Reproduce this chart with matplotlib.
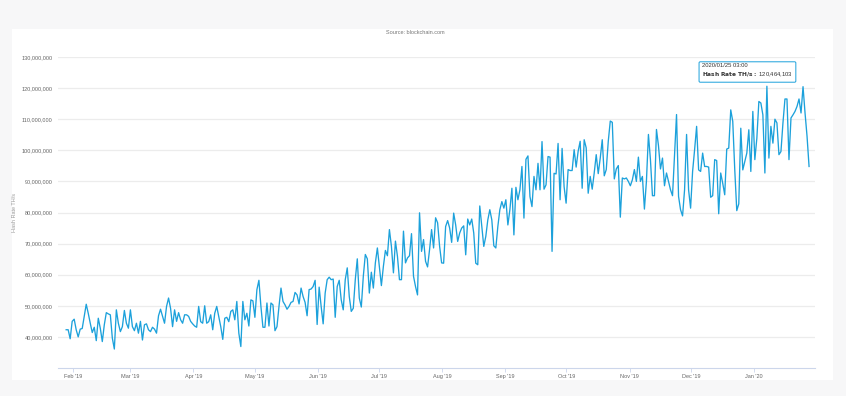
import matplotlib
matplotlib.use("Agg")
import matplotlib.pyplot as plt
import matplotlib.dates as mdates
import matplotlib.ticker as mticker
from matplotlib.patches import Rectangle
import numpy as np
import pandas as pd

### Data (hash rate, millions of TH/s, roughly daily)
hash_rate_m = [
    # Jan 28 - Mar 31 2019
    42.3, 42.3, 39.4, 45, 45.7, 42.3, 40, 42.5, 42.7, 46.6, 50.5, 47.6, 44.4, 41.4, 43.1, 38.8,
    46, 42.8, 38.5, 43.9, 47.8, 47.4, 47.1, 39.6, 36.1, 48.7, 44.4, 41.7, 43.3, 48.5, 44.4, 42.8,
    48.7, 43.3, 42, 44.4, 41.2, 45, 39, 43.9, 44.2, 42.3, 41.7, 43.1, 42.5, 41.2, 46.8, 48.9,
    46.6, 44.4, 49.8, 52.5, 49.2, 43.3, 48.7, 45, 47.8, 45.5, 44.4, 47.1, 47.1, 46.6, 45,
    # Apr - May
    44.2, 43.5, 43.1, 49.8, 44.9, 44.4, 50, 44.4, 44.9, 47.1, 42.3, 47.6, 49.8, 46.6, 43.3, 39.2,
    46, 46.3, 44.9, 48.2, 48.7, 45.5, 51.4, 41.2, 36.9, 51.4, 45.5, 47.6, 43.5, 51.9, 51.6, 46.3,
    55.2, 58.2, 49.8, 43.1, 43.1, 50.9, 43.5, 50.9, 50.3, 42, 43.3, 49.8, 55.7, 51.4, 50.3, 48.9,
    49.8, 51.1, 51.4, 54.3, 53.5, 50.6, 55.7, 53, 51.1, 46.8, 55.2, 55.4, 56.2, 58.2, 44,
    # Jun - Jul
    56.0, 49.8, 44.2, 54.1, 58.4, 59.2, 58.4, 58.6, 46.3, 56.2, 58.2, 51.9, 48.7, 58.4, 62.2, 53,
    48.2, 49.2, 58.4, 65.1, 52.5, 49.6, 59.5, 66.5, 65.1, 54.1, 60.8, 55.7, 63.8, 68.6, 62.7, 56.5,
    62.7, 67.8, 66.1, 74.5, 69.1, 60.6, 70.8, 65.9, 58.4, 58.4, 74, 63.8, 65.4, 66.1, 73.2, 59.5,
    56.2, 53.5, 79.9, 67.5, 71.3, 64.3, 62.5, 68.1, 74.5, 68.6, 78.3, 76.7, 69.1, 63.8,
    # Aug - Sep
    63.7, 75.5, 77.4, 75, 70.4, 79.8, 76, 70.7, 73.4, 75, 75.7, 66.4, 77.9, 76, 77.9, 73.4,
    63.7, 63.2, 82.1, 75.5, 69.1, 72.3, 77.6, 80.9, 77.6, 69.3, 68.6, 75.5, 80.9, 83.5, 81.4, 84.1,
    76, 80.9, 87.8, 72.8, 88.1, 84.1, 87.3, 94.8, 78.2, 97.1, 98.2, 85.1, 81.9, 91.6, 87.3, 95.8,
    87.3, 102.8, 87.5, 88.9, 98, 97.8, 67.5, 92.6, 92.4, 102.2, 84.1, 100.6, 88.3, 83,
    # Oct - Nov
    93.8, 93.5, 93.5, 100.2, 94.6, 99.7, 102.9, 87.8, 103.4, 100.8, 86.2, 91.6, 87.5, 92.7, 98.6, 92.5,
    97.5, 103.4, 91.8, 93.8, 102.9, 109.4, 109, 90.8, 94, 95.1, 78.5, 91.1, 90.8, 91.1, 90, 88.6,
    90.5, 93.8, 90, 97.8, 90, 91.6, 81.1, 90, 105.1, 97, 85.4, 85.4, 106.7, 101.5, 94, 97.5,
    88.6, 92.7, 90, 87.3, 85.4, 98.1, 111.5, 85.2, 80.9, 78.9, 87.3, 105.1, 87.3, 81.4,
    # Dec - Jan 2020
    93.2, 100.2, 107.7, 93.7, 93.2, 99.1, 94.8, 94.8, 94.6, 84.9, 85.4, 97, 96.7, 79.6, 92.7, 89.4,
    85.7, 100.4, 100.7, 113, 109.3, 93.7, 80.6, 82.8, 107.1, 93.7, 96.4, 99.1, 106.6, 93.2, 112.5, 97,
    103.9, 115.7, 115.2, 111.4, 92.7, 120.6, 97.5, 107.7, 102.3, 110, 108.8, 98.6, 99.6, 108.8, 116.5,
    116.5, 97, 110.4, 111.4, 112.5, 114.1, 116.5, 112, 120.464103, 112, 104.5, 94.8,
]
start_date = "2019-01-28 14:00"
end_date = "2020-01-28 00:00"
x_start, x_end = "2019-01-24 14:00", "2020-01-30 22:00"

y_ticks_m = [40, 50, 60, 70, 80, 90, 100, 110, 120, 130]
tooltip_date = "2020/01/25 03:00"
tooltip_value = "120,464,103"

values = np.array(hash_rate_m) * 1e6
dates = pd.date_range(start_date, end_date, periods=len(values))

### Style
line_color = "#1ca1db"
grid_color = "#ececec"
axis_color = "#ccd6eb"
label_color = "#666666"
plt.rcParams["font.family"] = ["Liberation Sans", "DejaVu Sans"]

fig = plt.figure(figsize=(8.46, 3.96), dpi=100, facecolor="#f7f7f8")
# white panel behind the chart
fig.patches.append(Rectangle((12 / 846, 1 - 380 / 396), 821 / 846, 351 / 396,
                             transform=fig.transFigure, facecolor="white",
                             edgecolor="none", zorder=-5))

ax = fig.add_axes([58 / 846, 1 - 368 / 396, 757 / 846, 311 / 396])
ax.set_zorder(2)
ax.patch.set_alpha(0)
ax.plot(dates, values, color=line_color, linewidth=0.95)

ax.set_ylim(30e6, 130e6)
ax.set_xlim(pd.Timestamp(x_start), pd.Timestamp(x_end))
ax.set_yticks([v * 1e6 for v in y_ticks_m])
ax.yaxis.set_major_formatter(mticker.FuncFormatter(lambda v, p: f"{int(v):,}"))
ax.grid(axis="y", color=grid_color, linewidth=0.9)
ax.set_axisbelow(True)

ax.xaxis.set_major_locator(mdates.MonthLocator())
ax.xaxis.set_major_formatter(mdates.DateFormatter("%b '%y"))

for s in ["top", "right", "left"]:
    ax.spines[s].set_visible(False)
ax.spines["bottom"].set_color(axis_color)
ax.spines["bottom"].set_linewidth(0.8)
ax.tick_params(axis="y", length=0, labelsize=4, labelcolor=label_color, pad=4)
ax.tick_params(axis="x", length=3, width=0.6, color=axis_color, labelsize=4,
               labelcolor=label_color, pad=1.5)

ax.set_ylabel("Hash Rate TH/s", fontsize=4, color="#999999")
ax.yaxis.set_label_coords(-41 / 757, 0.5)
fig.text(415 / 846, 1 - 32 / 396, "Source: blockchain.com", ha="center", va="center",
         fontsize=4, color="#777777")

### Tooltip on the peak
i_peak = int(np.argmax(values))
ax.annotate(f"{tooltip_date}\n" + r"$\bf{Hash\ Rate\ TH/s:}$ " + tooltip_value,
            xy=(dates[i_peak], values[i_peak]), xytext=(-14, 5),
            textcoords="offset points", ha="center", va="bottom", multialignment="left",
            fontsize=4.2, color="#333333", linespacing=1.5,
            bbox=dict(boxstyle="round,pad=0.5,rounding_size=0.2", fc="white",
                      ec=line_color, lw=0.7))

fig.savefig("out.png", dpi=100, facecolor=fig.get_facecolor())
